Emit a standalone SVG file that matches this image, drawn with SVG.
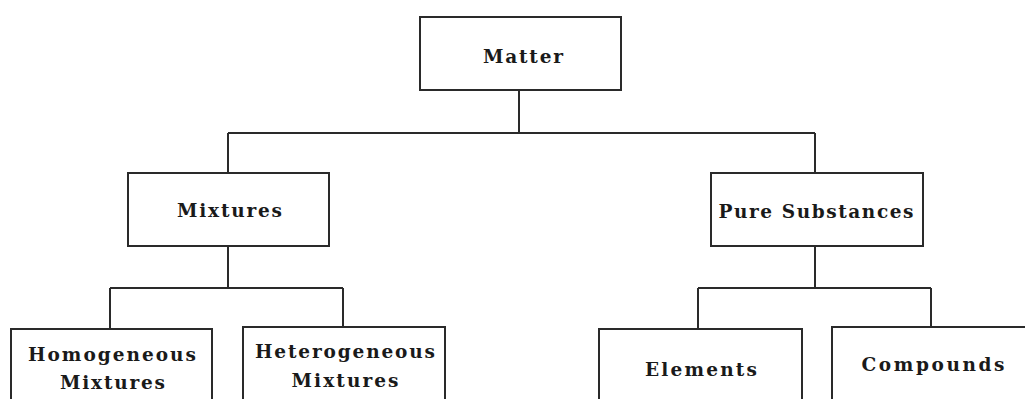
<svg xmlns="http://www.w3.org/2000/svg" width="1025" height="399" viewBox="0 0 1025 399">
<style>
.box{fill:#fff;stroke:#2a2a2a;stroke-width:2}
.lbl{font-family:"DejaVu Serif","Liberation Serif",serif;font-weight:bold;font-size:18.5px;fill:#1a1a1a;text-anchor:middle}
.conn{fill:none;stroke:#2a2a2a;stroke-width:2}
</style>
<rect width="1025" height="399" fill="#fff"/>
<g id="connectors">
<path class="conn" d="M519,90 V133 M228,133 H815 M228,133 V173 M815,133 V173"/>
<path class="conn" d="M228,246 V288 M110,288 H343 M110,288 V329 M343,288 V327"/>
<path class="conn" d="M815,246 V288 M698,288 H931 M698,288 V329 M931,288 V327"/>
</g>
<g id="matter">
<rect class="box" x="420" y="17" width="201" height="73"/>
<text class="lbl" x="523" y="63" textLength="80" lengthAdjust="spacing">Matter</text>
</g>
<g id="mixtures">
<rect class="box" x="128" y="173" width="201" height="73"/>
<text class="lbl" x="229.5" y="217" textLength="105" lengthAdjust="spacing">Mixtures</text>
</g>
<g id="pure-substances">
<rect class="box" x="711" y="173" width="212" height="73"/>
<text class="lbl" x="816" y="218" textLength="195" lengthAdjust="spacing">Pure Substances</text>
</g>
<g id="homogeneous">
<rect class="box" x="11" y="329" width="201" height="90"/>
<text class="lbl" x="112" y="361" textLength="168" lengthAdjust="spacing">Homogeneous</text>
<text class="lbl" x="112.5" y="389" textLength="105" lengthAdjust="spacing">Mixtures</text>
</g>
<g id="heterogeneous">
<rect class="box" x="243" y="327" width="202" height="90"/>
<text class="lbl" x="345" y="358" textLength="180" lengthAdjust="spacing">Heterogeneous</text>
<text class="lbl" x="345" y="387" textLength="107" lengthAdjust="spacing">Mixtures</text>
</g>
<g id="elements">
<rect class="box" x="599" y="329" width="203" height="90"/>
<text class="lbl" x="701" y="376" textLength="112" lengthAdjust="spacing">Elements</text>
</g>
<g id="compounds">
<rect class="box" x="832" y="327" width="220" height="90"/>
<text class="lbl" x="933" y="371" textLength="143" lengthAdjust="spacing">Compounds</text>
</g>
</svg>
